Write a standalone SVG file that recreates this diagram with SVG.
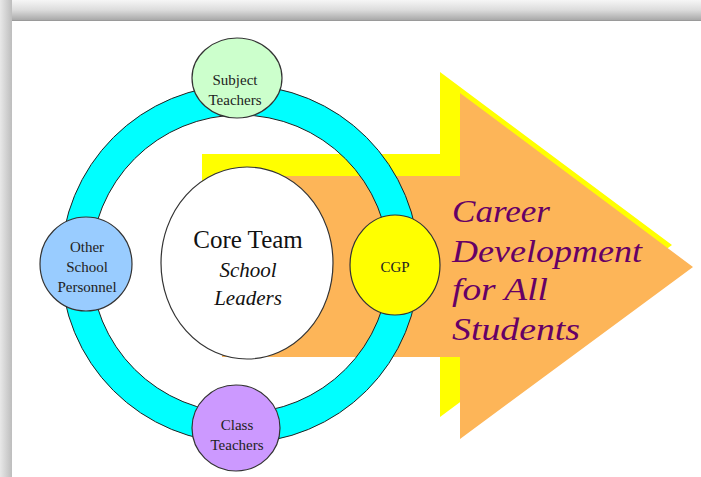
<svg xmlns="http://www.w3.org/2000/svg" width="701" height="477" viewBox="0 0 701 477">
<defs>
<linearGradient id="gTop" x1="0" y1="0" x2="0" y2="1">
<stop offset="0" stop-color="#f6f6f6"/><stop offset="0.5" stop-color="#dcdcdc"/><stop offset="1" stop-color="#a9a9a9"/>
</linearGradient>
<linearGradient id="gLeft" x1="0" y1="0" x2="1" y2="0">
<stop offset="0" stop-color="#e8e8e8"/><stop offset="1" stop-color="#bdbdbd"/>
</linearGradient>
<style>
.node{stroke:#333;stroke-width:1.2}
.lbl{font-size:15px;fill:#222;text-anchor:middle}
.big{fill:#111;text-anchor:middle}
.hand{font-style:italic;font-size:32px;fill:#660066}
</style>
</defs>
<rect width="701" height="477" fill="#fff"/>
<rect x="0" y="0" width="701" height="20" fill="url(#gTop)"/>
<rect x="0" y="0" width="12" height="477" fill="url(#gLeft)"/>
<rect x="12" y="20" width="689" height="457" fill="#fff"/>
<line x1="12" y1="20.5" x2="701" y2="20.5" stroke="#9a9a9a" stroke-width="1"/>

<g id="arrows">
<polygon id="yellowArrow" points="202,154 440,154 440,72 672,245 440,417 440,336 202,336" fill="#ffff00"/>
<polygon id="orangeArrow" points="222,176 460,176 460,93 693,267 460,439 460,357 222,357" fill="#fdb558"/>
</g>

<g id="ring">
<circle cx="240" cy="264" r="164" fill="none" stroke="#00ffff" stroke-width="30"/>
<circle cx="240" cy="264" r="179" fill="none" stroke="#222" stroke-width="1"/>
<circle cx="240" cy="264" r="149" fill="none" stroke="#222" stroke-width="1"/>
</g>

<g font-family="Liberation Serif, Times New Roman, serif">
<g id="core">
<ellipse class="node" cx="247" cy="263" rx="86" ry="96" fill="#fff"/>
<text class="big" x="248" y="248" font-size="25">Core Team</text>
<text class="big" x="248" y="277" font-size="21" font-style="italic">School</text>
<text class="big" x="248" y="305" font-size="21" font-style="italic">Leaders</text>
</g>

<g id="subject">
<ellipse class="node" cx="237" cy="78" rx="45" ry="40" fill="#ccffcc"/>
<text class="lbl" x="235" y="85">Subject</text>
<text class="lbl" x="235" y="105">Teachers</text>
</g>

<g id="other">
<ellipse class="node" cx="86" cy="264" rx="46" ry="47" fill="#99ccff"/>
<text class="lbl" x="87" y="252">Other</text>
<text class="lbl" x="87" y="272">School</text>
<text class="lbl" x="87" y="292">Personnel</text>
</g>

<g id="cgp">
<ellipse class="node" cx="395" cy="265" rx="45" ry="50" fill="#ffff00"/>
<text class="lbl" x="395" y="272">CGP</text>
</g>

<g id="class">
<ellipse class="node" cx="236" cy="428" rx="44" ry="43" fill="#cc99ff"/>
<text class="lbl" x="237" y="430">Class</text>
<text class="lbl" x="237" y="450">Teachers</text>
</g>

<g id="goal">
<text class="hand" x="452" y="222" textLength="98" lengthAdjust="spacingAndGlyphs">Career</text>
<text class="hand" x="452" y="262" textLength="190" lengthAdjust="spacingAndGlyphs">Development</text>
<text class="hand" x="452" y="300" textLength="96" lengthAdjust="spacingAndGlyphs">for All</text>
<text class="hand" x="452" y="340" textLength="128" lengthAdjust="spacingAndGlyphs">Students</text>
</g>
</g>
</svg>
